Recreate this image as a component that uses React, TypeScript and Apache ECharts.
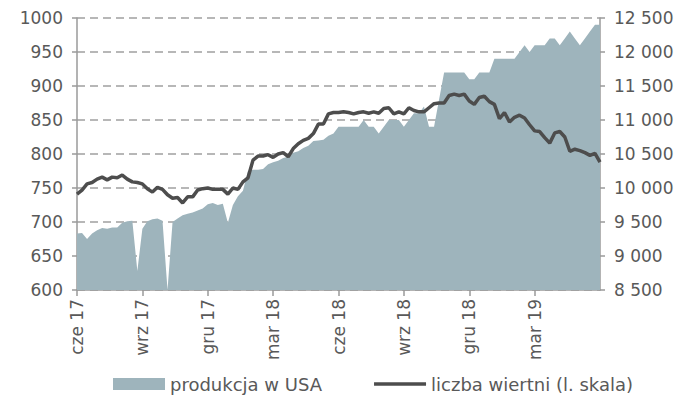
import React, { useEffect, useRef } from "react";
import * as echarts from "echarts";

// weekly observations, first week 9 Jun 2017, last 7 Jun 2019
const START_DATE = "2017-06-09";
const quarterLabels = ["cze 17", "wrz 17", "gru 17", "mar 18", "cze 18", "wrz 18", "gru 18", "mar 19"];

// US crude production (right axis, thousand b/d)
const production = [
  9330, 9340, 9250, 9330, 9380, 9410, 9400, 9420, 9420, 9490,
  9510, 9520, 8780, 9400, 9510, 9540, 9550, 9520, 8500, 9500,
  9550, 9600, 9620, 9640, 9670, 9700, 9760, 9780, 9750, 9770,
  9490, 9750, 9880, 9960, 10250, 10270, 10270, 10280, 10350, 10380,
  10400, 10440, 10460, 10520, 10540, 10590, 10620, 10690, 10700, 10710,
  10770, 10800, 10900, 10900, 10900, 10900, 10900, 11000, 10900, 10900,
  10800, 10900, 11000, 11000, 11000, 10900, 11000, 11100, 11100, 11200,
  10900, 10900, 11300, 11700, 11700, 11700, 11700, 11700, 11600, 11600,
  11700, 11700, 11700, 11900, 11900, 11900, 11900, 11900, 12000, 12100,
  12000, 12100, 12100, 12100, 12200, 12200, 12100, 12200, 12300, 12200,
  12100, 12200, 12300, 12400, 12400,
];

// oil rig count (left axis)
const rigs = [
  741, 747, 756, 758, 763, 766, 762, 766, 765, 769,
  763, 759, 758, 756, 749, 744, 751, 748, 740, 735,
  736, 728, 737, 737, 747, 749, 750, 748, 748, 748,
  741, 750, 748, 759, 765, 791, 797, 797, 799, 795,
  800, 802, 796, 808, 815, 820, 823, 830, 844, 844,
  859, 861, 861, 862, 861, 859, 861, 862, 860, 862,
  860, 867, 868, 859, 862, 859, 868, 864, 862, 862,
  868, 874, 875, 875, 886, 888, 886, 888, 878, 873,
  883, 885, 877, 873, 852, 861, 847, 854, 857, 853,
  843, 834, 833, 824, 816, 831, 833, 825, 804, 807,
  805, 802, 798, 801, 788,
];

const seriesNames = ["produkcja w USA", "liczba wiertni (l. skala)"];

function weekDates(start: string, n: number): string[] {
  const out: string[] = [];
  const t0 = new Date(start + "T00:00:00Z").getTime();
  for (let i = 0; i < n; i++) {
    out.push(new Date(t0 + i * 7 * 86400000).toISOString().slice(0, 10));
  }
  return out;
}

const fmtSpace = (v: number) => String(Math.round(v)).replace(/\B(?=(\d{3})+(?!\d))/g, " ");

export default function App() {
  const ref = useRef<HTMLDivElement>(null);
  useEffect(() => {
    if (!ref.current) return;
    const chart = echarts.init(ref.current, undefined, { renderer: "svg" });
    const categories = weekDates(START_DATE, rigs.length);
    const isQuarter = (i: number) => i % 13 === 0 && i / 13 < quarterLabels.length;
    const font = "DejaVu Sans";
    const txt = "#595959";
    const axisCol = "#9a9a9a";
    chart.setOption({
      animation: false,
      textStyle: { fontFamily: font },
      grid: { left: 77, right: 84, top: 18, bottom: 110, containLabel: false },
      legend: {
        left: 108,
        bottom: 2,
        itemGap: 52,
        itemWidth: 52,
        itemHeight: 12,
        textStyle: { color: txt, fontSize: 18, fontFamily: font },
        data: [
          { name: seriesNames[0], icon: "rect" },
          { name: seriesNames[1], icon: "path://M0,0 L56,0 L56,4 L0,4 Z" },
        ],
      },
      xAxis: {
        type: "category",
        data: categories,
        boundaryGap: false,
        axisLine: { lineStyle: { color: axisCol, width: 1.5 } },
        axisTick: {
          interval: (i: number) => isQuarter(i),
          length: 6,
          lineStyle: { color: axisCol, width: 1.5 },
        },
        axisLabel: {
          interval: (i: number) => isQuarter(i),
          formatter: (_v: string, i: number) => (isQuarter(i) ? quarterLabels[i / 13] : ""),
          rotate: 90,
          margin: 9,
          color: txt,
          fontSize: 17,
          fontFamily: font,
        },
        splitLine: { show: false },
      },
      yAxis: [
        {
          type: "value",
          min: 600,
          max: 1000,
          interval: 50,
          position: "left",
          axisLine: { show: true, lineStyle: { color: axisCol, width: 1.5 } },
          axisTick: { show: true, length: 5, lineStyle: { color: axisCol, width: 1.5 } },
          axisLabel: { color: txt, fontSize: 17, fontFamily: font, margin: 14, formatter: (v: number) => String(v) },
          splitLine: { show: true, lineStyle: { color: "#a0a0a0", width: 1.5, type: [8, 5] } },
        },
        {
          type: "value",
          min: 8500,
          max: 12500,
          interval: 500,
          position: "right",
          axisLine: { show: true, lineStyle: { color: axisCol, width: 1.5 } },
          axisTick: { show: true, length: 5, lineStyle: { color: axisCol, width: 1.5 } },
          axisLabel: { color: txt, fontSize: 17, fontFamily: font, margin: 14, formatter: fmtSpace },
          splitLine: { show: false },
        },
      ],
      series: [
        {
          name: seriesNames[0],
          type: "line",
          yAxisIndex: 1,
          data: production,
          showSymbol: false,
          symbol: "none",
          lineStyle: { width: 0, color: "#9eb4bc" },
          itemStyle: { color: "#9eb4bc" },
          areaStyle: { color: "#9eb4bc", opacity: 1 },
          z: 1,
        },
        {
          name: seriesNames[1],
          type: "line",
          yAxisIndex: 0,
          data: rigs,
          showSymbol: false,
          symbol: "none",
          lineStyle: { width: 3.5, color: "#4d4d4d" },
          itemStyle: { color: "#4d4d4d" },
          z: 3,
        },
      ],
    });
    return () => chart.dispose();
  }, []);
  return <div ref={ref} style={{ width: 684, height: 400, position: "absolute", left: 0, top: 0 }} />;
}
